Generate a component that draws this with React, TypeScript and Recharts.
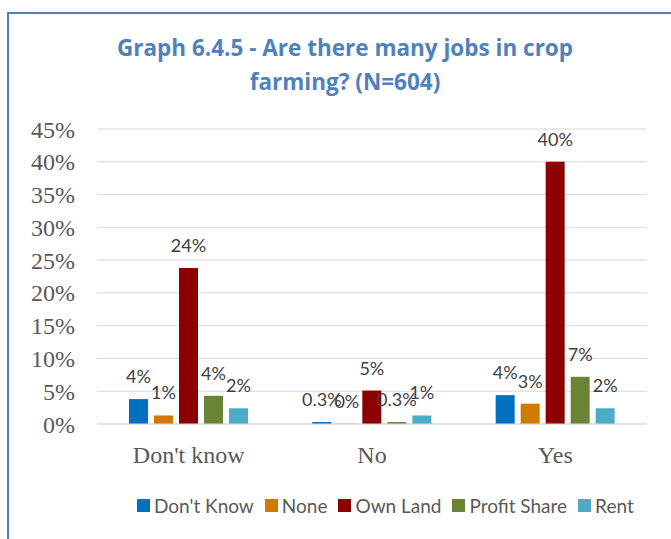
import { BarChart, Bar, XAxis, YAxis, CartesianGrid, LabelList } from 'recharts';

const categories = ["Don't know", 'No', 'Yes'];

const seriesNames = ["Don't Know", 'None', 'Own Land', 'Profit Share', 'Rent'];
const seriesColors = ['#0070C0', '#D07A00', '#8C0000', '#6A8435', '#4BACC6'];

// percent values per category (Don't know, No, Yes)
const dkValues = [3.8, 0.3, 4.4];
const noneValues = [1.3, 0.05, 3.1];
const ownLandValues = [23.8, 5.1, 40.0];
const profitShareValues = [4.3, 0.3, 7.2];
const rentValues = [2.4, 1.3, 2.4];

// labels as printed on the chart
const dkLabels = ['4%', '0.3%', '4%'];
const noneLabels = ['1%', '0%', '3%'];
const ownLandLabels = ['24%', '5%', '40%'];
const profitShareLabels = ['4%', '0.3%', '7%'];
const rentLabels = ['2%', '1%', '2%'];

const yTicks = [0, 5, 10, 15, 20, 25, 30, 35, 40, 45];

const seriesValues = [dkValues, noneValues, ownLandValues, profitShareValues, rentValues];
const seriesLabels = [dkLabels, noneLabels, ownLandLabels, profitShareLabels, rentLabels];

const data = categories.map((cat, i) => {
  const row: Record<string, string | number> = { name: cat };
  seriesNames.forEach((s, j) => {
    row[s] = seriesValues[j][i];
    row[s + '_label'] = seriesLabels[j][i];
  });
  return row;
});

const labelFont = 'Lato, "Open Sans", sans-serif';
const serifFont = '"Liberation Serif", "DejaVu Serif", serif';

export default function App() {
  return (
    <div
      style={{
        position: 'absolute',
        left: 0,
        top: 0,
        width: 671,
        height: 539,
        overflow: 'hidden',
        background: '#fff',
      }}
    >
      <div
        style={{
          position: 'absolute',
          left: 7,
          top: 12,
          width: 800,
          height: 700,
          borderLeft: '2px solid #4F81BD',
          borderTop: '2px solid #4F81BD',
        }}
      />
      <div
        style={{
          position: 'absolute',
          left: 20,
          top: 31,
          width: 650,
          textAlign: 'center',
          fontFamily: '"Open Sans", Lato, sans-serif',
          fontWeight: 700,
          fontSize: 22.5,
          lineHeight: '34px',
          color: '#4F81BD',
        }}
      >
        Graph 6.4.5 - Are there many jobs in crop
        <br />
        farming? (N=604)
      </div>
      <div style={{ position: 'absolute', left: 0, top: 0 }}>
        <BarChart
          width={671}
          height={539}
          data={data}
          margin={{ top: 129, right: 24, bottom: 75, left: 17 }}
          barCategoryGap={32}
          barGap={6}
        >
          <CartesianGrid vertical={false} stroke="#D9D9D9" />
          <XAxis
            dataKey="name"
            height={40}
            tickLine={false}
            tickSize={0}
            tickMargin={22}
            axisLine={{ stroke: '#D9D9D9' }}
            tick={{ fill: '#595959', fontSize: 24, fontFamily: serifFont }}
          />
          <YAxis
            width={80}
            domain={[0, 45]}
            ticks={yTicks}
            interval={0}
            tickFormatter={(v: number) => `${v}%`}
            axisLine={false}
            tickLine={false}
            tickSize={0}
            tickMargin={22}
            tick={{ fill: '#595959', fontSize: 24, fontFamily: serifFont }}
          />
          {seriesNames.map((s, j) => (
            <Bar key={s} dataKey={s} fill={seriesColors[j]} isAnimationActive={false}>
              <LabelList
                dataKey={s + '_label'}
                position="top"
                offset={16}
                style={{ fill: '#404040', fontSize: 18, fontFamily: labelFont }}
              />
            </Bar>
          ))}
        </BarChart>
      </div>
      <div
        style={{
          position: 'absolute',
          left: 137,
          top: 494,
          display: 'flex',
          alignItems: 'center',
          fontFamily: labelFont,
          fontSize: 19,
          color: '#595959',
          whiteSpace: 'nowrap',
        }}
      >
        {seriesNames.map((s, j) => (
          <div key={s} style={{ display: 'flex', alignItems: 'center', marginRight: 11 }}>
            <span
              style={{
                display: 'inline-block',
                width: 13,
                height: 13,
                background: seriesColors[j],
                marginRight: 4,
              }}
            />
            <span>{s}</span>
          </div>
        ))}
      </div>
    </div>
  );
}
